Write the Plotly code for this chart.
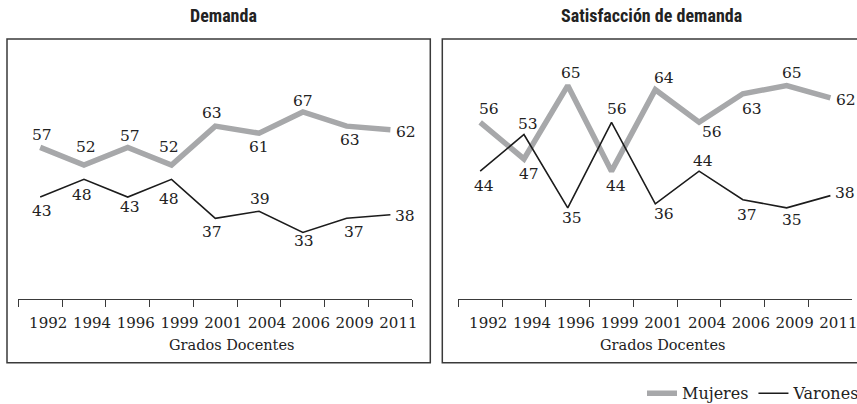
import plotly.graph_objects as go

# ---------------- data ----------------
years = ["1992", "1994", "1996", "1999", "2001", "2004", "2006", "2009", "2011"]
demanda_mujeres = [57, 52, 57, 52, 63, 61, 67, 63, 62]
demanda_varones = [43, 48, 43, 48, 37, 39, 33, 37, 38]
satisf_mujeres = [56, 47, 65, 44, 64, 56, 63, 65, 62]
satisf_varones = [44, 53, 35, 56, 36, 44, 37, 35, 38]
panel_titles = ["Demanda", "Satisfacción de demanda"]
axis_title = "Grados Docentes"
series_names = ["Mujeres", "Varones"]

# ---------------- label placement (px offsets of value labels) ----------------
dem_muj_off = [(2, 12), (2, 18), (2, 11), (-3, 18), (-3, 13), (0, -14), (0, 11), (3, -14), (16, -2)]
dem_var_off = [(2, -14), (-2, -16), (2, -10), (-3, -20), (-3, -14), (1, 12), (1, -9), (7, -14), (15, -1)]
sat_muj_off = [(9, 13), (5, -15), (3, 13), (4, -15), (9, 12), (13, -10), (9, -15), (5, 13), (16, -2)]
sat_var_off = [(4, -15), (4, 11), (4, -10), (5, 13), (9, -10), (4, 10), (4, -15), (5, -12), (15, 3)]

W, H = 857, 404
GRAY = "#a7a8aa"
BLACK = "#1c1c1c"
FRAME = "#3a3a3a"
SERIF = "DejaVu Serif, Liberation Serif, serif"
NARROW = "Liberation Sans Narrow, Roboto Condensed, DejaVu Sans Condensed, sans-serif"


def px_x(p):
    return p / W


def px_y(p):
    return 1 - p / H


fig = go.Figure()

panels = [
    ("x", "y", demanda_mujeres, demanda_varones, dem_muj_off, dem_var_off, True),
    ("x2", "y2", satisf_mujeres, satisf_varones, sat_muj_off, sat_var_off, False),
]

for xa, ya, muj, var, moff, voff, show in panels:
    fig.add_trace(go.Scatter(
        x=years, y=muj, mode="lines", name=series_names[0],
        line=dict(color=GRAY, width=5.5), xaxis=xa, yaxis=ya,
        showlegend=show, legendrank=1))
    fig.add_trace(go.Scatter(
        x=years, y=var, mode="lines", name=series_names[1],
        line=dict(color=BLACK, width=1.6), xaxis=xa, yaxis=ya,
        showlegend=show, legendrank=2))
    for vals, offs in ((muj, moff), (var, voff)):
        # category index used as annotation position on the category axis
        for i, (v, (dx, dy)) in enumerate(zip(vals, offs)):
            fig.add_annotation(x=i, y=v, xref=xa, yref=ya, text=str(v),
                               showarrow=False, xshift=dx, yshift=dy,
                               xanchor="center", yanchor="middle",
                               font=dict(family=SERIF, size=15.5, color="#222"))

common_x = dict(
    type="category", range=[-0.5, 8.5], tickson="boundaries",
    ticks="outside", ticklen=7, tickwidth=1.2, tickcolor=FRAME,
    showline=True, linecolor=FRAME, linewidth=1.3, showgrid=False,
    zeroline=False, tickfont=dict(family=SERIF, size=15, color="#222"),
    tickangle=0, ticklabelshift=8, ticklabelstandoff=10,
    automargin=False, fixedrange=True,
)
common_y = dict(visible=False, showgrid=False, zeroline=False, fixedrange=True)

ydom = [px_y(299.3), px_y(60)]
fig.update_layout(
    xaxis=dict(domain=[px_x(18.3), px_x(412.3)], anchor="y", **common_x),
    xaxis2=dict(domain=[px_x(458.3), px_x(852.3)], anchor="y2", **common_x),
    yaxis=dict(domain=ydom, range=[14.15, 81.66], anchor="x", **common_y),
    yaxis2=dict(domain=ydom, range=[12.56, 71.28], anchor="x2", **common_y),
)

# panel frames
fig.add_shape(type="rect", xref="paper", yref="paper",
              x0=px_x(7), x1=px_x(430.3), y0=px_y(362.7), y1=px_y(39),
              line=dict(color=FRAME, width=1.5), layer="below")
fig.add_shape(type="rect", xref="paper", yref="paper",
              x0=px_x(442.3), x1=px_x(880), y0=px_y(362.7), y1=px_y(39),
              line=dict(color=FRAME, width=1.5), layer="below")

# panel titles
for t, cx in zip(panel_titles, (223.5, 651.5)):
    fig.add_annotation(x=px_x(cx), y=px_y(15), xref="paper", yref="paper",
                       text="<b>" + t + "</b>", showarrow=False,
                       xanchor="center", yanchor="middle",
                       font=dict(family=NARROW, size=18, color="#222"))

# axis titles
for xa, sh in (("x", 16.5), ("x2", 7.6)):
    fig.add_annotation(x=0.5, xref=xa + " domain", y=px_y(344.5), yref="paper",
                       text=axis_title, showarrow=False, xshift=sh,
                       xanchor="center", yanchor="middle",
                       font=dict(family=SERIF, size=14.5, color="#222"))

fig.update_layout(
    width=W, height=H, autosize=False,
    margin=dict(l=0, r=0, t=0, b=0, pad=0, autoexpand=False),
    paper_bgcolor="white", plot_bgcolor="white",
    showlegend=True,
    legend=dict(orientation="h", x=px_x(642), y=px_y(393.3),
                xanchor="left", yanchor="middle",
                font=dict(family=SERIF, size=16, color="#222"),
                bgcolor="rgba(0,0,0,0)", borderwidth=0,
                itemwidth=30, traceorder="normal"),
)

fig.write_html("out.html", config={"displayModeBar": False},
               post_script="document.body.style.margin='0';document.body.style.overflow='hidden';")
